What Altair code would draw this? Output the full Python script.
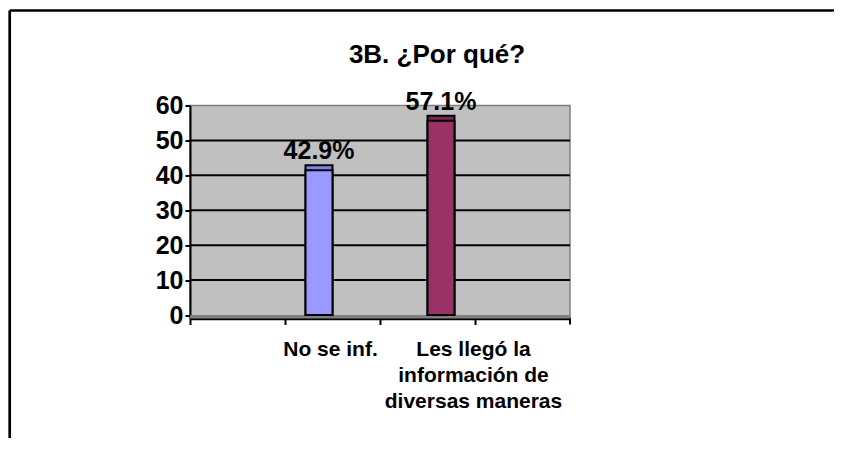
import altair as alt
import pandas as pd

# ---------------- data ----------------
title_text = "3B. ¿Por qué?"
categories = ["", "No se inf.", "Les llegó la información de diversas maneras", " "]
bar_categories = ["No se inf.", "Les llegó la información de diversas maneras"]
series = ["s1", "s2"]
values = [42.9, 57.1]
value_labels = ["42.9%", "57.1%"]
bar_colors = ["#9999FF", "#993366"]
cap_colors = ["#8080E6", "#7A2852"]
label_lines = [["No se inf."], ["Les llegó la", "información de", "diversas maneras"]]
y_ticks = [0, 10, 20, 30, 40, 50, 60]
grid_values = [10, 20, 30, 40, 50]

FONT = "Liberation Sans"
W, H = 380, 213

bars_df = pd.DataFrame({
    "cat": bar_categories, "series": series, "value": values,
    "label": value_labels, "color": bar_colors, "cap": cap_colors,
})
cat_df = pd.DataFrame({"cat": bar_categories, "lines": label_lines})
grid_df = pd.DataFrame({"g": grid_values})
one = pd.DataFrame({"t": [title_text]})

y_scale = alt.Scale(domain=[-1, 60], nice=False, zero=False)
x_scale = alt.Scale(domain=categories, paddingInner=0, paddingOuter=0)
xo_scale = alt.Scale(domain=series, paddingInner=0, paddingOuter=0.76)

x_axis = alt.Axis(title=None, labels=False, bandPosition=0, domainColor="black",
                  domainWidth=2.5, tickColor="black", tickWidth=2, tickSize=6, grid=False)
y_axis = alt.Axis(values=y_ticks, title=None, labelFont=FONT, labelFontSize=25,
                  labelFontWeight="bold", labelColor="black", domainColor="black",
                  domainWidth=2, tickColor="black", tickWidth=2, tickSize=5,
                  labelPadding=2, grid=False)

floor = alt.Chart(one).mark_rect(color="#808080").encode(
    x=alt.value(0), x2=alt.value(W),
    y=alt.Y(datum=0, scale=y_scale, axis=y_axis), y2=alt.value(H),
)

grid = alt.Chart(grid_df).mark_rule(color="black", strokeWidth=2).encode(
    x=alt.value(0), x2=alt.value(W),
    y=alt.Y("g:Q", scale=y_scale, axis=y_axis),
)

base = alt.Chart(bars_df).encode(
    x=alt.X("cat:N", scale=x_scale, axis=x_axis),
    xOffset=alt.XOffset("series:N", scale=xo_scale),
)

cap = base.mark_bar(stroke="black", strokeWidth=2).encode(
    y=alt.Y("value:Q", scale=y_scale, axis=y_axis),
    y2=alt.value(H),
    color=alt.Color("cap:N", scale=None),
)
body = base.mark_bar(stroke="black", strokeWidth=2, yOffset=5).encode(
    y=alt.Y("value:Q", scale=y_scale, axis=y_axis),
    y2=alt.value(H),
    color=alt.Color("color:N", scale=None),
)
vlabels = base.mark_text(font=FONT, fontSize=25, fontWeight="bold", color="black",
                         baseline="alphabetic", dy=-6).encode(
    y=alt.Y("value:Q", scale=y_scale, axis=y_axis),
    text="label:N",
)

cat1 = alt.Chart(cat_df).transform_filter(alt.datum.cat == bar_categories[0]).mark_text(
    font=FONT, fontSize=21, fontWeight="bold", color="black", align="center",
    baseline="alphabetic", lineHeight=26, dx=-2).encode(
    x=alt.X("cat:N", scale=x_scale, axis=x_axis), y=alt.value(250.5), text="lines")
cat2 = alt.Chart(cat_df).transform_filter(alt.datum.cat == bar_categories[1]).mark_text(
    font=FONT, fontSize=21, fontWeight="bold", color="black", align="center",
    baseline="alphabetic", lineHeight=26, dx=46).encode(
    x=alt.X("cat:N", scale=x_scale, axis=x_axis), y=alt.value(250.5), text="lines")

title = alt.Chart(one).mark_text(font=FONT, fontSize=26, fontWeight="bold", color="black",
                                 align="center", baseline="alphabetic").encode(
    x=alt.value(247), y=alt.value(-43), text="t:N")

border_top = alt.Chart(one).mark_rule(color="black", strokeWidth=2.7).encode(
    x=alt.value(-180.3), x2=alt.value(700), y=alt.value(-95))
border_left = alt.Chart(one).mark_rule(color="black", strokeWidth=2.7).encode(
    x=alt.value(-180.3), y=alt.value(-95), y2=alt.value(400))
last_tick = alt.Chart(one).mark_rule(color="black", strokeWidth=2).encode(
    x=alt.value(W), y=alt.value(H), y2=alt.value(H + 6))

chart = alt.layer(
    floor, grid, cap, body, vlabels, cat1, cat2, title, border_top, border_left, last_tick
).properties(
    width=W, height=H,
    autosize=alt.AutoSizeParams(type="none"),
    padding={"left": 182, "top": 97.5, "right": 264, "bottom": 119.5},
    background="white",
).configure_view(
    fill="#C0C0C0", stroke="#808080", strokeWidth=1.5,
)

chart.save("out.html", embed_options={"renderer": "svg", "actions": False})
